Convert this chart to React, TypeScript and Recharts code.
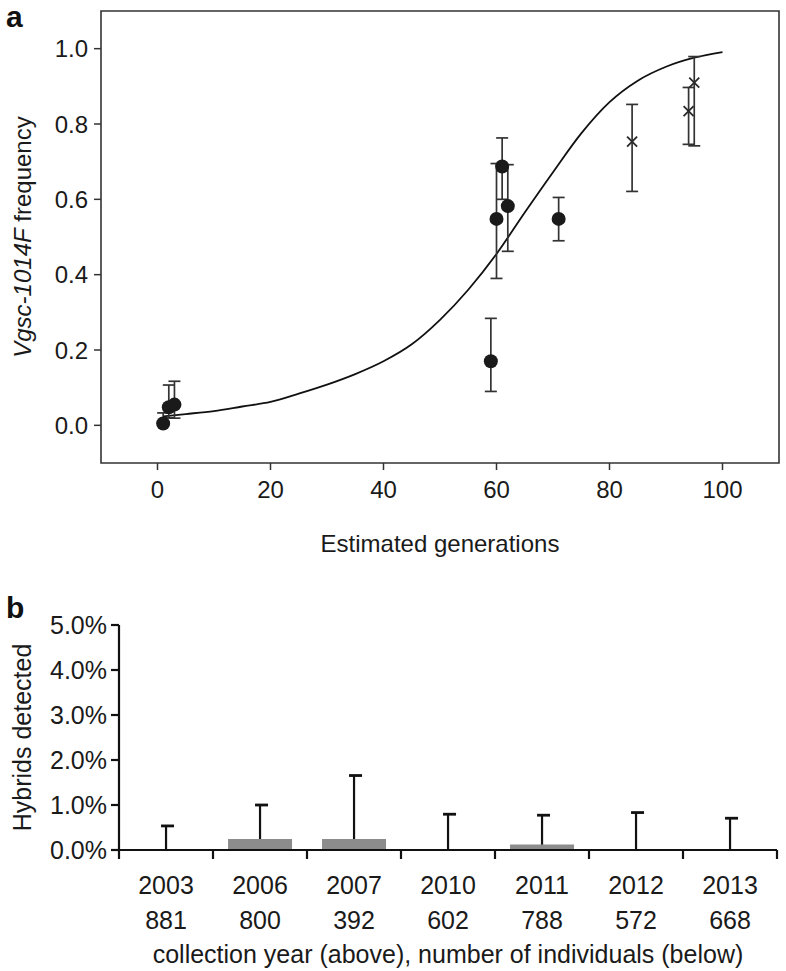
import React from 'react';
import { ComposedChart, Line, Scatter, ErrorBar, XAxis, YAxis, ReferenceArea, BarChart, Bar, ScatterChart } from 'recharts';

const FONT = '"Liberation Sans", Arial, Helvetica, sans-serif';
const FS_A = 24;
const FS_B = 25;

// panel a: fitted curve
const curveGen = [1, 5, 10, 15, 20, 25, 30, 35, 40, 45, 50, 55, 60, 65, 70, 75, 80, 85, 90, 95, 100];
const curveFreq = [0.024, 0.03, 0.038, 0.05, 0.062, 0.084, 0.108, 0.136, 0.17, 0.215, 0.28, 0.36, 0.455, 0.565, 0.672, 0.775, 0.858, 0.915, 0.952, 0.976, 0.991];

// panel a: observed samples (filled circles)
const obsGen = [1, 2, 3, 59, 60, 61, 62, 71];
const obsFreq = [0.005, 0.048, 0.055, 0.17, 0.548, 0.687, 0.582, 0.548];
const obsLow = [0.0, 0.02, 0.019, 0.09, 0.39, 0.6, 0.462, 0.49];
const obsHigh = [0.033, 0.107, 0.117, 0.284, 0.695, 0.763, 0.692, 0.605];

// panel a: crosses
const crossGen = [84, 94, 95];
const crossFreq = [0.753, 0.834, 0.91];
const crossLow = [0.621, 0.746, 0.742];
const crossHigh = [0.852, 0.897, 0.979];

const xTicksA = [0, 20, 40, 60, 80, 100];
const yTicksA = [0, 0.2, 0.4, 0.6, 0.8, 1.0];

// panel b
const years = ['2003', '2006', '2007', '2010', '2011', '2012', '2013'];
const sampleSizes = [881, 800, 392, 602, 788, 572, 668];
const hybridPct = [0, 0.245, 0.245, 0, 0.12, 0, 0];
const upperPct = [0.535, 1.0, 1.655, 0.795, 0.773, 0.832, 0.706];
const yTicksB = [0, 1, 2, 3, 4, 5];

const curveData = curveGen.map((g, i) => ({ gen: g, freq: curveFreq[i] }));
const obsData = obsGen.map((g, i) => ({ gen: g, freq: obsFreq[i], err: [obsFreq[i] - obsLow[i], obsHigh[i] - obsFreq[i]] }));
const crossData = crossGen.map((g, i) => ({ gen: g, freq: crossFreq[i], err: [crossFreq[i] - crossLow[i], crossHigh[i] - crossFreq[i]] }));
const barData = years.map((y, i) => ({ year: y, n: sampleSizes[i], pct: hybridPct[i], hi: upperPct[i] }));
// boundaries (integers) get tick marks, half steps carry the year / n labels
const edgeTicks: number[] = [];
years.forEach((_, i) => { edgeTicks.push(i, i + 0.5); });
edgeTicks.push(years.length);

const tickStyleA = { fontSize: FS_A, fill: '#1a1a1a', fontFamily: FONT };
const tickStyleB = { fontSize: FS_B, fill: '#1a1a1a', fontFamily: FONT };

const Dot = (p: any) => <circle cx={p.cx} cy={p.cy} r={7} fill="#1a1a1a" />;
const XMark = (p: any) => {
  const s = 5;
  return (
    <g stroke="#2a2a2a" strokeWidth={1.8}>
      <line x1={p.cx - s} y1={p.cy - s} x2={p.cx + s} y2={p.cy + s} />
      <line x1={p.cx - s} y1={p.cy + s} x2={p.cx + s} y2={p.cy - s} />
    </g>
  );
};

const YLabelA = (props: any) => {
  const vb = props.viewBox;
  const cx = 31;
  const cy = vb.y + vb.height / 2;
  return (
    <text x={cx} y={cy} transform={`rotate(-90 ${cx} ${cy})`} textAnchor="middle" fontSize={FS_A} fontFamily={FONT} fill="#1a1a1a">
      <tspan fontStyle="italic">Vgsc-1014F</tspan>
      <tspan> frequency</tspan>
    </text>
  );
};

const XLabelA = (props: any) => {
  const vb = props.viewBox;
  return (
    <text x={vb.x + vb.width / 2} y={vb.y + 89} textAnchor="middle" fontSize={FS_A} fontFamily={FONT} fill="#1a1a1a">
      Estimated generations
    </text>
  );
};

const YLabelB = (props: any) => {
  const vb = props.viewBox;
  const cx = 31;
  const cy = vb.y + vb.height / 2;
  return (
    <text x={cx} y={cy} transform={`rotate(-90 ${cx} ${cy})`} textAnchor="middle" fontSize={FS_B} fontFamily={FONT} fill="#1a1a1a">
      Hybrids detected
    </text>
  );
};

const XLabelB = (props: any) => {
  const vb = props.viewBox;
  return (
    <text x={vb.x + vb.width / 2} y={vb.y + 113} textAnchor="middle" fontSize={FS_B} fontFamily={FONT} fill="#1a1a1a">
      collection year (above), number of individuals (below)
    </text>
  );
};

const EdgeTick = (p: any) => {
  const v = p.payload.value;
  if (Number.isInteger(v)) {
    return <line x1={p.x} y1={p.y} x2={p.x} y2={p.y + 9} stroke="#111" strokeWidth={2.2} />;
  }
  const i = Math.floor(v);
  return (
    <g>
      <text x={p.x} y={p.y + 44} textAnchor="middle" fontSize={FS_B} fontFamily={FONT} fill="#1a1a1a">{years[i]}</text>
      <text x={p.x} y={p.y + 79} textAnchor="middle" fontSize={FS_B} fontFamily={FONT} fill="#1a1a1a">{sampleSizes[i]}</text>
    </g>
  );
};

const UpperWhisker = (p: any) => {
  if (p.height == null) return null;
  const cx = p.x + p.width / 2;
  return (
    <g stroke="#111" strokeWidth={2.2}>
      <line x1={cx} y1={p.y + p.height} x2={cx} y2={p.y} />
      <line x1={cx - 5} y1={p.y} x2={cx + 8} y2={p.y} strokeWidth={2.8} />
    </g>
  );
};

export default function App() {
  return (
    <div style={{ position: 'absolute', left: 0, top: 0, width: 786, height: 971, background: '#fff', fontFamily: FONT }}>
      <svg width={40} height={40} style={{ position: 'absolute', left: 0, top: 0 }}>
        <text x={6} y={27} fontSize={30} fontWeight="bold" fontFamily={FONT} fill="#111">a</text>
      </svg>
      <svg width={40} height={40} style={{ position: 'absolute', left: 0, top: 590 }}>
        <text x={6} y={28} fontSize={30} fontWeight="bold" fontFamily={FONT} fill="#111">b</text>
      </svg>

      <div style={{ position: 'absolute', left: 0, top: 0 }}>
        <ComposedChart width={786} height={560} margin={{ top: 11, right: 7, left: 0, bottom: 0 }}>
          <XAxis
            dataKey="gen"
            type="number"
            domain={[-10, 110]}
            ticks={xTicksA}
            allowDataOverflow
            axisLine={false}
            tickSize={7}
            tickMargin={11}
            tickLine={{ stroke: '#333', strokeWidth: 1.5 }}
            tick={tickStyleA}
            height={97}
            label={<XLabelA />}
          />
          <YAxis
            type="number"
            domain={[-0.1, 1.1]}
            ticks={yTicksA}
            allowDataOverflow
            axisLine={false}
            tickSize={7}
            tickMargin={6}
            tickLine={{ stroke: '#333', strokeWidth: 1.5 }}
            tick={tickStyleA}
            tickFormatter={(v: number) => v.toFixed(1)}
            width={101}
            label={<YLabelA />}
          />
          <ReferenceArea x1={-10} x2={110} y1={-0.1} y2={1.1} fill="none" stroke="#333" strokeWidth={1.6} ifOverflow="visible" />
          <Line data={curveData} dataKey="freq" type="monotone" stroke="#111" strokeWidth={1.8} dot={false} isAnimationActive={false} />
          <Scatter data={obsData} dataKey="freq" shape={<Dot />} isAnimationActive={false}>
            <ErrorBar dataKey="err" direction="y" width={6} stroke="#333" strokeWidth={1.7} />
          </Scatter>
          <Scatter data={crossData} dataKey="freq" shape={<XMark />} isAnimationActive={false}>
            <ErrorBar dataKey="err" direction="y" width={6} stroke="#333" strokeWidth={1.7} />
          </Scatter>
        </ComposedChart>
      </div>

      {/* panel b: bars + whiskers */}
      <div style={{ position: 'absolute', left: 0, top: 580 }}>
        <BarChart width={786} height={391} data={barData} margin={{ top: 45, right: 9, left: 0, bottom: 121 }} barCategoryGap="16%">
          <XAxis xAxisId="cat" dataKey="year" hide height={0} />
          <XAxis xAxisId="whisk" dataKey="year" hide height={0} />
          <YAxis
            domain={[0, 5]}
            ticks={yTicksB}
            width={119}
            axisLine={{ stroke: '#111', strokeWidth: 2.2 }}
            tickLine={{ stroke: '#111', strokeWidth: 2.2 }}
            tickSize={8}
            tickMargin={4}
            tick={tickStyleB}
            tickFormatter={(v: number) => v.toFixed(1) + '%'}
            label={<YLabelB />}
          />
          <Bar xAxisId="whisk" dataKey="hi" fill="none" shape={<UpperWhisker />} isAnimationActive={false} />
          <Bar xAxisId="cat" dataKey="pct" fill="#8c8c8c" isAnimationActive={false} />
        </BarChart>
      </div>

      {/* panel b: x axis with category boundaries */}
      <div style={{ position: 'absolute', left: 0, top: 580, pointerEvents: 'none' }}>
        <ScatterChart width={786} height={391} margin={{ top: 45, right: 9, left: 119, bottom: 0 }}>
          <XAxis
            type="number"
            dataKey="x"
            domain={[0, years.length]}
            allowDataOverflow
            ticks={edgeTicks}
            interval={0}
            height={121}
            axisLine={{ stroke: '#111', strokeWidth: 2.2 }}
            tickLine={false}
            tickSize={0}
            tickMargin={0}
            tick={<EdgeTick />}
            label={<XLabelB />}
          />
          <YAxis type="number" dataKey="y" domain={[0, 5]} hide />
          <Scatter data={[]} isAnimationActive={false} />
        </ScatterChart>
      </div>
    </div>
  );
}
